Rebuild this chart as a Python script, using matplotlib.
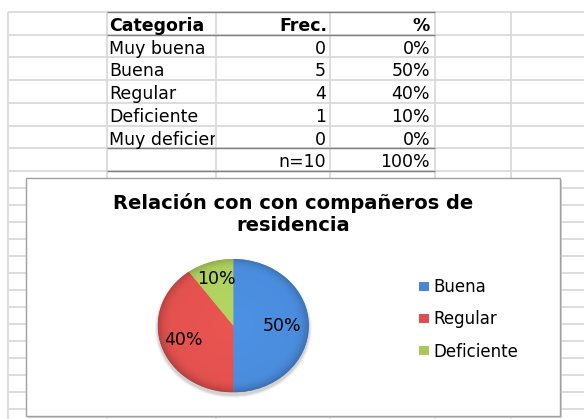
import matplotlib
matplotlib.use("Agg")
import matplotlib.pyplot as plt
import matplotlib.colors as mcolors
import numpy as np
from matplotlib.patches import Rectangle, Ellipse
from matplotlib.transforms import Bbox

# ---------------- data ----------------
headers = ["Categoria", "Frec.", "%"]
categorias = ["Muy buena", "Buena", "Regular", "Deficiente", "Muy deficiente"]
frecuencias = [0, 5, 4, 1, 0]
porcentajes = ["0%", "50%", "40%", "10%", "0%"]
total_label = "n=10"
total_pct = "100%"
titulo = "Relación con con compañeros de\nresidencia"

pie_labels = [c for c, f in zip(categorias, frecuencias) if f > 0]
pie_values = [f for f in frecuencias if f > 0]
pie_colors = ["#4888d6", "#dc4f4c", "#a9c95b"]

# ---------------- figure / sheet background ----------------
W, H = 584, 419
fig = plt.figure(figsize=(W / 100, H / 100), dpi=100)
bg = fig.add_axes([0, 0, 1, 1])
bg.set_xlim(0, W)
bg.set_ylim(H, 0)
bg.axis("off")

grid = "#dadada"
col_x = [7.5, 107, 216, 330, 435, 511]
row_y = [12 + 22.75 * i for i in range(8)] + [171.25 + 17 * i for i in range(1, 15)]
bg.hlines(row_y, 7.5, W, color=grid, lw=1.3, zorder=1)
bg.vlines(col_x, 12, H, color=grid, lw=1.3, zorder=1)
dark = "#7f7f7f"
bg.hlines([row_y[0], row_y[1], row_y[6], row_y[7]], 107, 435, color=dark, lw=1.0, zorder=2)

fs = 12.5
bg.text(109, row_y[1] - 4, headers[0], fontsize=fs, fontweight="bold", ha="left", va="baseline")
bg.text(327, row_y[1] - 4, headers[1], fontsize=fs, fontweight="bold", ha="right", va="baseline")
bg.text(430, row_y[1] - 4, headers[2], fontsize=fs, fontweight="bold", ha="right", va="baseline")
for i, (c, f, p) in enumerate(zip(categorias, frecuencias, porcentajes)):
    yb = row_y[i + 2] - 4
    t = bg.text(109, yb, c, fontsize=fs, ha="left", va="baseline")
    # clip to the cell, as a spreadsheet does (display pixels, y upwards)
    t.set_clip_on(True)
    t.set_clip_path(None)
    t.set_clip_box(Bbox.from_extents(107, H - row_y[i + 2], 215, H - row_y[i + 1]))
    bg.text(326, yb, str(f), fontsize=fs, ha="right", va="baseline")
    bg.text(430, yb, p, fontsize=fs, ha="right", va="baseline")
bg.text(326, row_y[7] - 4, total_label, fontsize=fs, ha="right", va="baseline")
bg.text(430, row_y[7] - 4, total_pct, fontsize=fs, ha="right", va="baseline")

# chart box with shadow
bg.add_patch(Rectangle((27.5, 180.5), 534, 237, facecolor="#d4d4d4", edgecolor="none", zorder=3))
bg.add_patch(Rectangle((25.5, 178.5), 534, 237, facecolor="white", edgecolor="#a0a0a0", lw=1.0, zorder=4))

fig.text(293 / W, 1 - 213.5 / H, titulo, ha="center", va="center", fontsize=14,
         fontweight="bold", linespacing=1.2, zorder=10)

# ---------------- pie ----------------
cx, cy, rx, ry = 233.3, 325.7, 75.5, 66.7
pax = fig.add_axes([(cx - rx) / W, 1 - (cy + ry) / H, 2 * rx / W, 2 * ry / H])
pax.set_zorder(5)
wedges, _, autotexts = pax.pie(pie_values, colors=pie_colors, startangle=90, counterclock=False,
                               radius=1, autopct="%1.0f%%", pctdistance=0.65,
                               wedgeprops=dict(edgecolor="none"),
                               textprops=dict(fontsize=12.5, color="black"))

# soft shadow under the pie
for k, a in enumerate([0.04, 0.04, 0.05, 0.06]):
    s = 2.08 - 0.02 * k
    pax.add_patch(Ellipse((0, -0.04), s, s, facecolor="black", edgecolor="none",
                          alpha=a, zorder=0.5, clip_on=False))

# bevel-like shading per wedge
n = 300
xx, yy = np.meshgrid(np.linspace(-1, 1, n), np.linspace(1, -1, n))
rr = np.hypot(xx, yy)
shade = 1.03 + 0.04 * (1 - rr) - 0.2 * np.clip((rr - 0.82) / 0.18, 0, 1) ** 2
for w, col in zip(wedges, pie_colors):
    base = np.array(mcolors.to_rgb(col))
    img = np.clip(base[None, None, :] * shade[..., None], 0, 1)
    im = pax.imshow(img, extent=(-1, 1, -1, 1), aspect="auto", interpolation="bilinear",
                    zorder=w.get_zorder() + 0.1)
    im.set_clip_path(w)

dists = [0.64, 0.69, 0.74]
for t, w, d in zip(autotexts, wedges, dists):
    ang = np.deg2rad((w.theta1 + w.theta2) / 2)
    t.set_position((d * np.cos(ang), d * np.sin(ang)))
    t.set_zorder(5)

pax.set_aspect("auto")
pax.set_xlim(-1, 1)
pax.set_ylim(-1, 1)
pax.axis("off")

leg = fig.legend(wedges, pie_labels, loc="center left", bbox_to_anchor=(419 / W, 1 - 319.5 / H),
                 frameon=False, fontsize=12, handlelength=0.6, handleheight=0.42,
                 handletextpad=0.25, labelspacing=0.85, borderpad=0, borderaxespad=0)
leg.set_zorder(10)

fig.savefig("out.png", dpi=100)
